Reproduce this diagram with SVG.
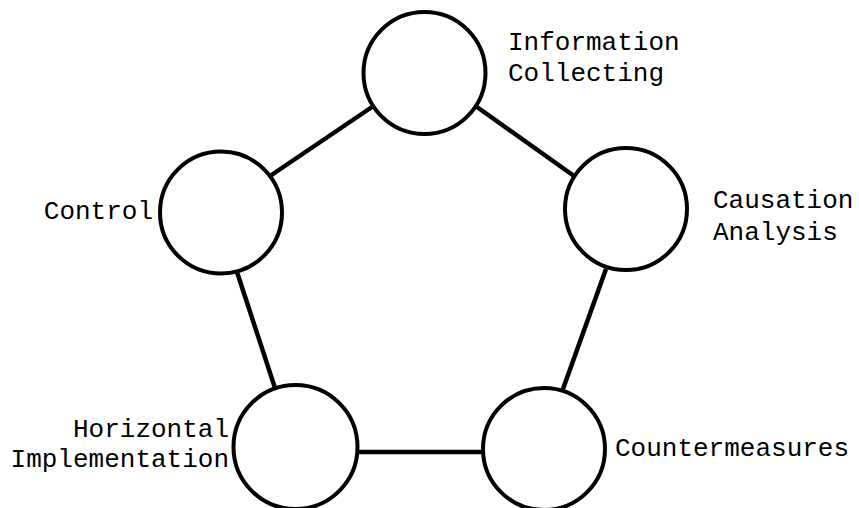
<svg xmlns="http://www.w3.org/2000/svg" width="859" height="508" viewBox="0 0 859 508">
<style>
.node circle{fill:none;stroke:#000;stroke-width:4}
.edges line{stroke:#000;stroke-width:4.5}
text{font-family:"Liberation Mono","DejaVu Sans Mono",monospace;font-size:26px;fill:#000}
.r{text-anchor:end}
</style>
<rect width="859" height="508" fill="#fff"/>
<g class="edges" id="connectors">
<line x1="372" y1="107" x2="270" y2="176"/>
<line x1="477" y1="107" x2="574" y2="176"/>
<line x1="606" y1="269" x2="563" y2="389"/>
<line x1="237" y1="272" x2="275" y2="388"/>
<line x1="357" y1="452" x2="484" y2="452"/>
</g>
<g class="node" id="information-collecting">
<circle cx="424.5" cy="73" r="61"/>
<text x="508" y="50">Information</text>
<text x="508" y="81">Collecting</text>
</g>
<g class="node" id="causation-analysis">
<circle cx="626" cy="209" r="61"/>
<text x="713" y="208">Causation</text>
<text x="713" y="240">Analysis</text>
</g>
<g class="node" id="countermeasures">
<circle cx="544" cy="449" r="61"/>
<text x="615" y="456">Countermeasures</text>
</g>
<g class="node" id="horizontal-implementation">
<circle cx="295.5" cy="447" r="62"/>
<text class="r" x="229" y="437">Horizontal</text>
<text class="r" x="229" y="467">Implementation</text>
</g>
<g class="node" id="control">
<circle cx="221" cy="212.5" r="61"/>
<text class="r" x="153" y="219">Control</text>
</g>
</svg>
